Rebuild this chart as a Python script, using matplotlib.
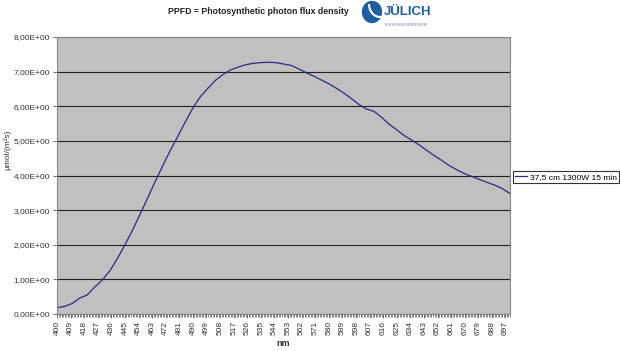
import numpy as np
import matplotlib.pyplot as plt
from matplotlib.ticker import FixedLocator, MultipleLocator, FuncFormatter
from matplotlib.patches import Ellipse, Arc

plt.rcParams['font.family'] = ['Liberation Sans', 'DejaVu Sans']

# wavelength (nm) and photon flux density
wavelength = [400, 405, 410, 415, 420, 425, 430, 435, 440, 445, 450, 455,
              460, 465, 470, 475, 480, 485, 490, 495, 500, 505, 510, 515,
              520, 525, 530, 535, 540, 545, 550, 555, 560, 565, 570, 575,
              580, 585, 590, 595, 600, 605, 610, 615, 620, 625, 630, 635,
              640, 645, 650, 655, 660, 665, 670, 675, 680, 685, 690, 695,
              700]
ppfd = [0.18, 0.22, 0.30, 0.46, 0.55, 0.78, 0.98, 1.25, 1.60, 2.00, 2.42,
        2.88, 3.35, 3.82, 4.28, 4.72, 5.13, 5.55, 5.95, 6.28, 6.52, 6.75,
        6.92, 7.05, 7.13, 7.20, 7.24, 7.26, 7.27, 7.26, 7.22, 7.18, 7.08,
        6.97, 6.87, 6.76, 6.65, 6.52, 6.38, 6.22, 6.05, 5.92, 5.85, 5.68,
        5.48, 5.32, 5.15, 5.02, 4.88, 4.72, 4.57, 4.43, 4.28, 4.16, 4.05,
        3.97, 3.88, 3.80, 3.72, 3.62, 3.48]
tick_nm = list(range(400, 700, 9))
series_name = '37,5 cm 1300W 15 min'


def sci_comma(v, pos=None):
    return ('%.2f' % v).replace('.', ',') + 'E+00'


fig = plt.figure(figsize=(6.2, 3.51), dpi=100)
ax = fig.add_axes([57 / 620, 37 / 351, 453 / 620, 277 / 351])
ax.set_facecolor('#c0c0c0')

ax.plot(wavelength, ppfd, color='#2b2b85', lw=0.9, label=series_name)

ax.set_xlim(400, 700)
ax.set_ylim(0, 8)
ax.yaxis.set_major_locator(MultipleLocator(1))
ax.yaxis.set_major_formatter(FuncFormatter(sci_comma))
ax.xaxis.set_major_locator(FixedLocator(tick_nm))
ax.xaxis.set_minor_locator(MultipleLocator(1))
ax.set_xticklabels([str(t) for t in tick_nm], rotation=90)
ax.tick_params(axis='both', labelsize=6, length=3, width=0.6, color='#555555',
               colors='#333333', pad=2)
ax.tick_params(axis='x', which='minor', length=2, width=0.5, color='#555555')
ax.grid(axis='y', color='#222222', lw=0.8)
ax.set_axisbelow(True)
for s in ax.spines.values():
    s.set_color('#888888')
    s.set_linewidth(0.8)

fig.text(283 / 620, 1 - 343 / 351, 'nm', ha='center', va='center',
         fontsize=6.5, fontweight='bold', color='#333333')
fig.text(8 / 620, 1 - 150 / 351, 'µmol/(m²s)', ha='center', va='center',
         rotation=90, fontsize=6, color='#333333')

leg = ax.legend(loc='center left', bbox_to_anchor=(1.006, 0.495), fontsize=6,
                frameon=True, fancybox=False, handlelength=1.5,
                borderpad=0.25, handletextpad=0.3, borderaxespad=0)
leg.get_frame().set_edgecolor('black')
leg.get_frame().set_linewidth(0.8)

fig.text(258 / 620, 1 - 11 / 351, 'PPFD = Photosynthetic photon flux density',
         ha='center', va='center', fontsize=6.3, fontweight='bold',
         color='#222222')

# Jülich logo
logo_blue = '#1f5fa0'
fig.patches.append(Ellipse((372 / 620, 1 - 12 / 351), 19 / 620, 21 / 351,
                           transform=fig.transFigure, color=logo_blue,
                           figure=fig))
fig.patches.append(Arc((380 / 620, 1 - 4 / 351), 22 / 620, 26 / 351,
                       theta1=180, theta2=280, transform=fig.transFigure,
                       color='white', lw=1.5, figure=fig))
fig.text(384 / 620, 1 - 12 / 351, 'JÜLICH', ha='left', va='center',
         fontsize=9.5, fontweight='bold', color=logo_blue)
fig.text(385 / 620, 1 - 25 / 351, 'FORSCHUNGSZENTRUM', ha='left',
         va='center', fontsize=2.6, color='#5a7fa8')

plt.savefig('out.png', dpi=100)
